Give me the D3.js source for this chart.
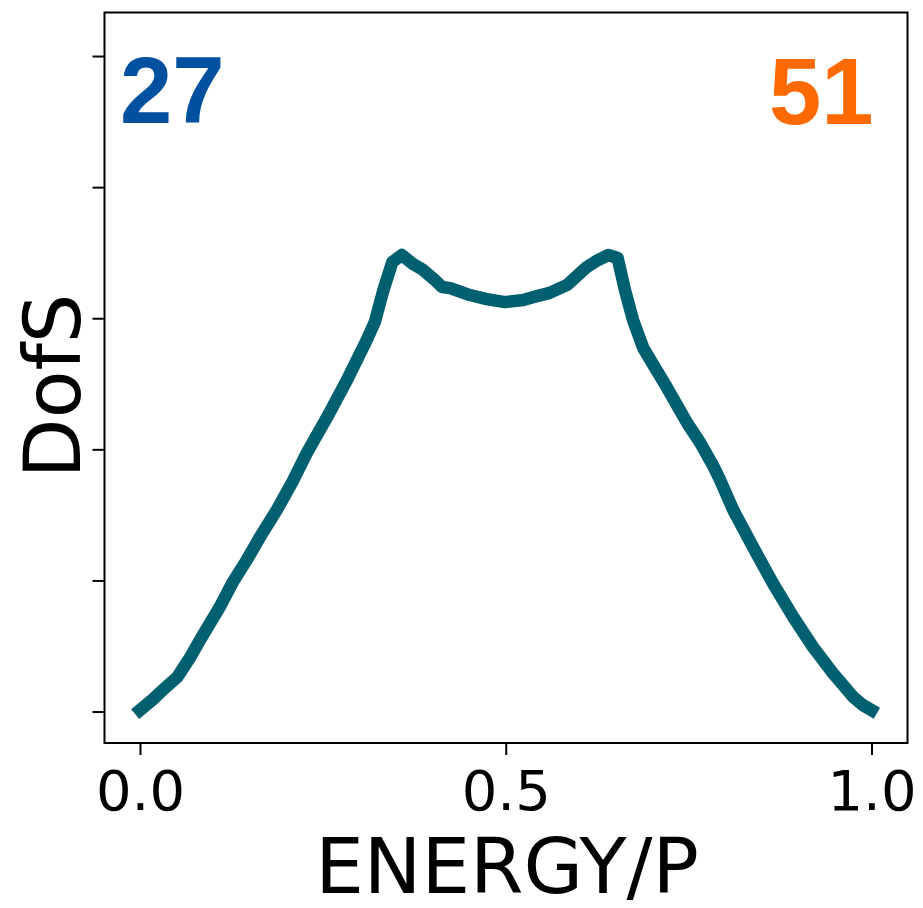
<!DOCTYPE html>
<html>
<head>
<meta charset="utf-8">
<script src="https://cdn.jsdelivr.net/npm/d3@7"></script>
<style>
  html, body { margin: 0; padding: 0; background: #fff; }
  svg { display: block; }
</style>
</head>
<body>
<svg id="chart" width="923" height="908"></svg>
<script>
// Density of states vs. normalised energy
const energy = [0.000, 0.018, 0.034, 0.051, 0.068, 0.082, 0.109, 0.127, 0.146, 0.164,
                0.187, 0.209, 0.228, 0.256, 0.283, 0.310, 0.321, 0.332, 0.345, 0.358,
                0.373, 0.387, 0.403, 0.413, 0.424, 0.451, 0.474, 0.499, 0.524, 0.543,
                0.560, 0.584, 0.611, 0.626, 0.640, 0.653, 0.663, 0.674, 0.688, 0.701,
                0.720, 0.748, 0.766, 0.783, 0.793, 0.811, 0.838, 0.865, 0.893, 0.920,
                0.947, 0.975, 0.988, 1.000];
const dos    = [0.011, 0.095, 0.179, 0.263, 0.408, 0.545, 0.797, 0.988, 1.156, 1.331,
                1.537, 1.758, 1.972, 2.247, 2.529, 2.834, 2.971, 3.200, 3.429, 3.482,
                3.414, 3.368, 3.291, 3.238, 3.230, 3.177, 3.146, 3.123, 3.139, 3.169,
                3.193, 3.254, 3.391, 3.444, 3.482, 3.459, 3.215, 2.986, 2.773, 2.651,
                2.475, 2.201, 2.048, 1.880, 1.766, 1.537, 1.255, 0.980, 0.721, 0.492,
                0.294, 0.111, 0.050, 0.011];

const xTicks = [0.0, 0.5, 1.0];
const yTicks = [0, 1, 2, 3, 4, 5];
const xLabel = "ENERGY/P";
const yLabel = "DofS";
const leftTag = "27";
const rightTag = "51";

const plot = { left: 104.5, top: 12.5, right: 907.5, bottom: 743 };

const x = d3.scaleLinear().domain([-0.0485, 1.0492]).range([plot.left, plot.right]);
const y = d3.scaleLinear().domain([-0.240, 5.332]).range([plot.bottom, plot.top]);

const svg = d3.select("#chart");
const tickFont = "'DejaVu Sans', sans-serif";

// curve
const points = energy.map((e, i) => [e, dos[i]]);
svg.append("path")
  .datum(points)
  .attr("fill", "none")
  .attr("stroke", "#006070")
  .attr("stroke-width", 12.5)
  .attr("stroke-linejoin", "round")
  .attr("stroke-linecap", "square")
  .attr("d", d3.line().x(d => x(d[0])).y(d => y(d[1])));

// frame
svg.append("rect")
  .attr("x", plot.left).attr("y", plot.top)
  .attr("width", plot.right - plot.left).attr("height", plot.bottom - plot.top)
  .attr("fill", "none").attr("stroke", "#000").attr("stroke-width", 2);

// x axis
const xAxis = d3.axisBottom(x).tickValues(xTicks).tickFormat(d3.format(".1f"))
  .tickSizeOuter(0).tickSizeInner(12).tickPadding(10);
const gx = svg.append("g").attr("transform", `translate(0,${plot.bottom})`).call(xAxis);
gx.select(".domain").remove();
gx.selectAll(".tick line").attr("stroke", "#000").attr("stroke-width", 2);
gx.selectAll(".tick text")
  .attr("fill", "#000")
  .attr("font-family", tickFont)
  .attr("font-size", 56)
  .attr("dy", null)
  .attr("y", 67);

// y axis (ticks only)
const yAxis = d3.axisLeft(y).tickValues(yTicks).tickFormat("")
  .tickSizeOuter(0).tickSizeInner(12);
const gy = svg.append("g").attr("transform", `translate(${plot.left},0)`).call(yAxis);
gy.select(".domain").remove();
gy.selectAll(".tick line").attr("stroke", "#000").attr("stroke-width", 2);

// axis titles
svg.append("text")
  .attr("x", (plot.left + plot.right) / 2 + 1)
  .attr("y", 893)
  .attr("text-anchor", "middle")
  .attr("font-family", tickFont)
  .attr("font-size", 77)
  .attr("fill", "#000")
  .text(xLabel);

svg.append("text")
  .attr("transform", `translate(80,386) rotate(-90)`)
  .attr("text-anchor", "middle")
  .attr("font-family", tickFont)
  .attr("font-size", 78)
  .attr("fill", "#000")
  .text(yLabel);

// corner tags
const tagFont = "'Liberation Sans', Arial, Helvetica, sans-serif";
svg.append("text")
  .attr("x", 120).attr("y", 122.5)
  .attr("font-family", tagFont).attr("font-weight", "bold")
  .attr("font-size", 94)
  .attr("fill", "#0050A0")
  .text(leftTag);

svg.append("text")
  .attr("x", 769).attr("y", 124)
  .attr("font-family", tagFont).attr("font-weight", "bold")
  .attr("font-size", 94)
  .attr("fill", "#FF6A00")
  .text(rightTag);
</script>
</body>
</html>
